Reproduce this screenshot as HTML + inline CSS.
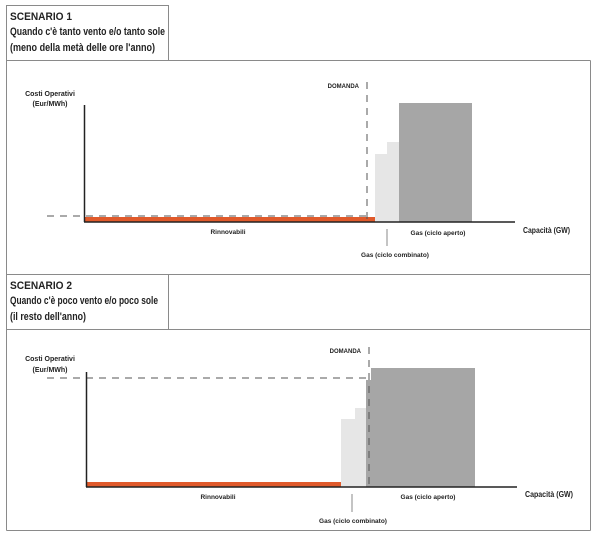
<!DOCTYPE html>
<html><head><meta charset="utf-8"><style>
html,body{margin:0;padding:0;background:#fff;}
svg{display:block;}
text{font-family:"Liberation Sans Narrow","Liberation Sans",sans-serif;font-weight:bold;fill:#222;}
</style></head><body>
<svg width="600" height="542" viewBox="0 0 600 542">
<g fill="none" stroke="#8a8a8a" stroke-width="1">
<rect x="6.5" y="5.5" width="162" height="55"/>
<line x1="6.5" y1="60.5" x2="590.5" y2="60.5"/>
<line x1="590.5" y1="60.5" x2="590.5" y2="530.5"/>
<line x1="6.5" y1="60.5" x2="6.5" y2="530.5"/>
<line x1="6.5" y1="274.5" x2="590.5" y2="274.5"/>
<line x1="168.5" y1="274.5" x2="168.5" y2="329.5"/>
<line x1="6.5" y1="329.5" x2="590.5" y2="329.5"/>
<line x1="6.5" y1="530.5" x2="590.5" y2="530.5"/>
</g>
<text x="10" y="20" font-size="11" textLength="62" lengthAdjust="spacingAndGlyphs">SCENARIO 1</text>
<text x="10" y="35" font-size="11" textLength="155" lengthAdjust="spacingAndGlyphs">Quando c'è tanto vento e/o tanto sole</text>
<text x="10" y="51" font-size="11" textLength="145" lengthAdjust="spacingAndGlyphs">(meno della metà delle ore l'anno)</text>
<text x="10" y="289" font-size="11" textLength="62" lengthAdjust="spacingAndGlyphs">SCENARIO 2</text>
<text x="10" y="304" font-size="11" textLength="148" lengthAdjust="spacingAndGlyphs">Quando c'è poco vento e/o poco sole</text>
<text x="10" y="320" font-size="11" textLength="76" lengthAdjust="spacingAndGlyphs">(il resto dell'anno)</text>

<rect x="375" y="154" width="13" height="68" fill="#e6e6e6"/>
<rect x="387" y="142" width="12" height="80" fill="#e6e6e6"/>
<rect x="399" y="103" width="73" height="119" fill="#a6a6a6"/>
<rect x="85" y="217" width="290" height="5" fill="#e05a2b"/>
<line x1="47" y1="216" x2="367" y2="216" stroke="#555" stroke-dasharray="7,6"/>
<line x1="367" y1="82" x2="367" y2="222" stroke="#555" stroke-dasharray="7,6"/>
<line x1="84.5" y1="105" x2="84.5" y2="222" stroke="#222" stroke-width="1.5"/>
<line x1="84" y1="222" x2="515" y2="222" stroke="#222" stroke-width="1.5"/>
<line x1="387" y1="229" x2="387" y2="246" stroke="#888"/>
<text x="50" y="96" font-size="7" text-anchor="middle">Costi Operativi</text>
<text x="50" y="106" font-size="7" text-anchor="middle">(Eur/MWh)</text>
<text x="359" y="88" font-size="6" text-anchor="end">DOMANDA</text>
<text x="228" y="234" font-size="6.5" text-anchor="middle">Rinnovabili</text>
<text x="438" y="235" font-size="6.5" text-anchor="middle">Gas (ciclo aperto)</text>
<text x="395" y="257" font-size="6.5" text-anchor="middle">Gas (ciclo combinato)</text>
<text x="523" y="233" font-size="8.5" textLength="47" lengthAdjust="spacingAndGlyphs">Capacità (GW)</text>

<rect x="341" y="419" width="14" height="68" fill="#e6e6e6"/>
<rect x="355" y="408" width="11" height="79" fill="#e6e6e6"/>
<rect x="366" y="380" width="6" height="107" fill="#a6a6a6"/>
<rect x="371" y="368" width="104" height="119" fill="#a6a6a6"/>
<rect x="87" y="482" width="254" height="5" fill="#e05a2b"/>
<line x1="47" y1="378" x2="369" y2="378" stroke="#555" stroke-dasharray="7,6"/>
<line x1="369" y1="347" x2="369" y2="487" stroke="#555" stroke-dasharray="7,6"/>
<line x1="86.5" y1="372" x2="86.5" y2="487" stroke="#222" stroke-width="1.5"/>
<line x1="86" y1="487" x2="517" y2="487" stroke="#222" stroke-width="1.5"/>
<line x1="352" y1="494" x2="352" y2="512" stroke="#888"/>
<text x="50" y="361" font-size="7" text-anchor="middle">Costi Operativi</text>
<text x="50" y="372" font-size="7" text-anchor="middle">(Eur/MWh)</text>
<text x="361" y="353" font-size="6" text-anchor="end">DOMANDA</text>
<text x="218" y="499" font-size="6.5" text-anchor="middle">Rinnovabili</text>
<text x="428" y="499" font-size="6.5" text-anchor="middle">Gas (ciclo aperto)</text>
<text x="353" y="523" font-size="6.5" text-anchor="middle">Gas (ciclo combinato)</text>
<text x="525" y="497" font-size="8.5" textLength="48" lengthAdjust="spacingAndGlyphs">Capacità (GW)</text>
</svg>
</body></html>
